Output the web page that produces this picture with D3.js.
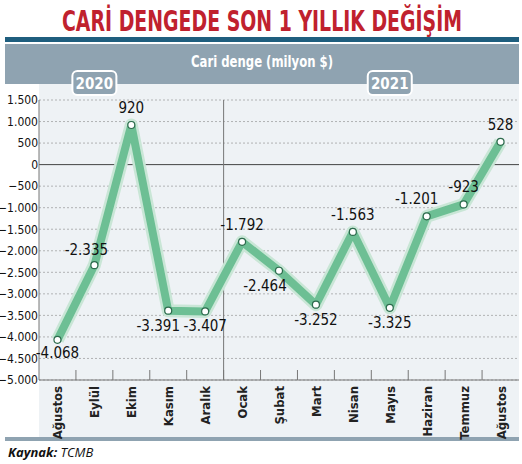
<!DOCTYPE html>
<html><head><meta charset="utf-8">
<script src="https://cdn.jsdelivr.net/npm/d3@7"></script>
<style>body{margin:0;background:#fff}</style>
</head><body>
<svg id="c" width="522" height="464"></svg>
<script>
var months = ["Ağustos","Eylül","Ekim","Kasım","Aralık","Ocak","Şubat","Mart","Nisan","Mayıs","Haziran","Temmuz","Ağustos"];
var values = [-4068,-2335,920,-3391,-3407,-1792,-2464,-3252,-1563,-3325,-1201,-923,528];
var labels = ["-4.068","-2.335","920","-3.391","-3.407","-1.792","-2.464","-3.252","-1.563","-3.325","-1.201","-923","528"];
var yTicks = [1500,1000,500,0,-500,-1000,-1500,-2000,-2500,-3000,-3500,-4000,-4500,-5000];
var years = ["2020","2021"];

var svg = d3.select("#c");
var fmt = function(v){ return d3.format(",")(v).replace(/,/g,"."); };
var cond = "DejaVu Sans Condensed, sans-serif";

svg.append("text").attr("x",62).attr("y",31)
	.attr("textLength",400).attr("lengthAdjust","spacingAndGlyphs")
	.attr("font-family",cond).attr("font-weight","bold")
	.attr("font-size",28).attr("fill","#c0212e").text("CARİ DENGEDE SON 1 YILLIK DEĞİŞİM");
svg.append("rect").attr("x",5).attr("y",37).attr("width",514).attr("height",5).attr("fill","#1f5e7e");
svg.append("rect").attr("x",5).attr("y",44).attr("width",514).attr("height",40).attr("fill","#8fa3b1");
svg.append("text").attr("x",262).attr("y",67).attr("text-anchor","middle")
	.attr("textLength",142).attr("lengthAdjust","spacingAndGlyphs")
	.attr("font-family",cond).attr("font-weight","bold")
	.attr("font-size",15).attr("fill","#fff").text("Cari denge (milyon $)");

var x = d3.scaleBand().domain(d3.range(months.length)).range([39,519]);
var y = d3.scaleLinear().domain([-5000,1500]).range([380,100]);

svg.append("rect").attr("x",39).attr("y",84).attr("width",480).attr("height",353).attr("fill","#eef2f5");
svg.append("rect").attr("x",5).attr("y",437).attr("width",514).attr("height",4).attr("fill","#8fa3b1");

var g = svg.append("g");
g.selectAll(".grid").data(yTicks).enter().append("line")
	.attr("x1",39).attr("x2",519).attr("y1",d=>y(d)).attr("y2",d=>y(d))
	.attr("stroke",d=>d===0?"#444":"#888").attr("stroke-width",d=>d===0?1:0.6)
	.attr("stroke-dasharray",d=>d===0?null:"2,2");
var yAxis = d3.axisLeft(y).tickValues(yTicks).tickSize(0).tickFormat(fmt);
var ya = svg.append("g").attr("transform","translate(39,0)").call(yAxis);
ya.select(".domain").remove();
ya.selectAll("text").attr("font-family",cond).attr("font-size",12).attr("fill","#111").attr("dx",2);

g.selectAll(".bt").data(d3.range(1,months.length)).enter().append("line")
	.attr("x1",d=>x(d)).attr("x2",d=>x(d)).attr("y1",370).attr("y2",380).attr("stroke","#777");
g.append("line").attr("x1",39).attr("x2",519).attr("y1",380).attr("y2",380).attr("stroke","#777");
g.append("line").attr("x1",39).attr("x2",39).attr("y1",100).attr("y2",380).attr("stroke","#777");
g.append("line").attr("x1",x(5)).attr("x2",x(5)).attr("y1",100).attr("y2",380).attr("stroke","#777");

[[1.5,0],[9.5,1]].forEach(function(p){
	var cx = x(0)+p[0]*x.bandwidth();
	svg.append("rect").attr("x",cx-22).attr("y",71).attr("width",44).attr("height",24).attr("rx",5)
		.attr("fill","#8fa3b1").attr("stroke","#fff").attr("stroke-width",2);
	svg.append("text").attr("x",cx).attr("y",89).attr("text-anchor","middle")
		.attr("font-family",cond).attr("font-weight","bold")
		.attr("font-size",15).attr("fill","#fff").text(years[p[1]]);
});

svg.selectAll(".ml").data(months).enter().append("text")
	.attr("transform",(d,i)=>"translate("+(x(i)+x.bandwidth()/2+5)+",386) rotate(-90)")
	.attr("text-anchor","end").attr("font-family",cond)
	.attr("font-weight","bold").attr("font-size",13).attr("fill","#222").text(d=>d);

var line = d3.line().x((d,i)=>x(i)+x.bandwidth()/2).y(d=>y(d));
svg.append("path").datum(values).attr("d",line).attr("fill","none")
	.attr("stroke","#c9e6d6").attr("stroke-width",13).attr("stroke-linejoin","round");
svg.append("path").datum(values).attr("d",line).attr("fill","none")
	.attr("stroke","#6dbf94").attr("stroke-width",8).attr("stroke-linejoin","round");
svg.selectAll(".pt").data(values).enter().append("circle")
	.attr("cx",(d,i)=>x(i)+x.bandwidth()/2).attr("cy",d=>y(d)).attr("r",3.5)
	.attr("fill","#fff").attr("stroke","#2d6b4d").attr("stroke-width",1.2);

var off = [[0,18],[-8,-10],[0,-12],[-10,20],[0,20],[0,-12],[-14,20],[0,20],[0,-12],[0,20],[-10,-12],[0,-12],[0,-12]];
svg.selectAll(".vl").data(values).enter().append("text")
	.attr("x",(d,i)=>x(i)+x.bandwidth()/2+off[i][0]).attr("y",(d,i)=>y(d)+off[i][1])
	.attr("text-anchor","middle").attr("font-family",cond)
	.attr("font-size",15).attr("fill","#111").text((d,i)=>labels[i]);

svg.append("text").attr("x",8).attr("y",457).attr("font-family","Open Sans, sans-serif")
	.attr("font-style","italic").attr("font-size",13).attr("fill","#111")
	.html("<tspan font-weight='bold'>Kaynak:</tspan> TCMB");
</script>
</body></html>
